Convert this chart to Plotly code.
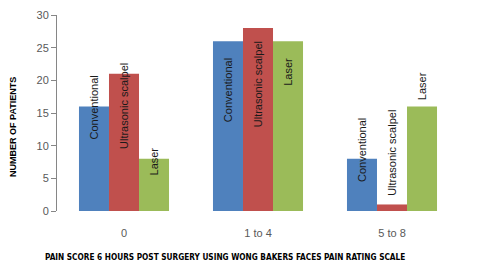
import plotly.graph_objects as go

categories = ["0", "1 to 4", "5 to 8"]
series_names = ["Conventional", "Ultrasonic scalpel", "Laser"]
conventional = [16, 26, 8]
ultrasonic = [21, 28, 1]
laser = [8, 26, 16]
y_ticks = [0, 5, 10, 15, 20, 25, 30]

colors = ["#4F81BD", "#C0504D", "#9BBB59"]
# label centre offsets relative to each bar value (data units), as placed in the original
label_offsets = [
    [-0.16, -7.5, 1.34],
    [-4.93, -8.6, 7.9],
    [-0.42, -4.7, 3.1],
]
x_shifts = [-30, 0, 30]

series = [conventional, ultrasonic, laser]

fig = go.Figure()
for name, vals, col in zip(series_names, series, colors):
    fig.add_trace(go.Bar(
        x=categories, y=vals, name=name,
        marker=dict(color=col, line=dict(width=0)),
    ))

annotations = []
for si, (name, vals) in enumerate(zip(series_names, series)):
    for ci, cat in enumerate(categories):
        annotations.append(dict(
            x=cat, y=vals[ci] + label_offsets[si][ci], xref="x", yref="y",
            xshift=x_shifts[si], text=name, textangle=-90, showarrow=False,
            xanchor="center", yanchor="middle",
            font=dict(family="Liberation Sans, Arial, sans-serif", size=11, color="#1a1a1a"),
        ))

annotations.append(dict(
    x=-0.109, y=0.43, xref="paper", yref="paper", text="<b>NUMBER OF PATIENTS</b>",
    textangle=-90, showarrow=False, xanchor="center", yanchor="middle",
    font=dict(family="Liberation Sans, Arial, sans-serif", size=9, color="#000000"),
))
annotations.append(dict(
    x=0.418, y=-0.235, xref="paper", yref="paper",
    text="<b>PAIN SCORE 6 HOURS POST SURGERY USING WONG BAKERS FACES PAIN RATING SCALE</b>",
    showarrow=False, xanchor="center", yanchor="middle",
    font=dict(family="DejaVu Sans Condensed, Liberation Sans Narrow, sans-serif", size=8.2, color="#000000"),
))

fig.update_layout(
    width=500, height=271,
    margin=dict(l=57, r=41, t=15, b=60, autoexpand=False),
    paper_bgcolor="white", plot_bgcolor="white",
    barmode="group", bargap=0.328, bargroupgap=0,
    showlegend=False,
    annotations=annotations,
    font=dict(family="Liberation Sans, Arial, sans-serif"),
)
fig.update_xaxes(
    automargin=False,
    showline=False, showgrid=False, ticks="", zeroline=False,
    tickfont=dict(size=11, color="#595959"), ticklabelstandoff=14,
)
fig.update_yaxes(
    automargin=False,
    range=[0, 30], tickvals=y_ticks, showgrid=False, zeroline=False,
    showline=True, linecolor="#868686", linewidth=1,
    ticks="outside", ticklen=5, tickcolor="#868686",
    tickfont=dict(size=11, color="#595959"),
)

fig.write_html(
    "out.html",
    config={"displayModeBar": False},
    post_script="document.body.style.margin='0';document.body.style.overflow='hidden';",
)
